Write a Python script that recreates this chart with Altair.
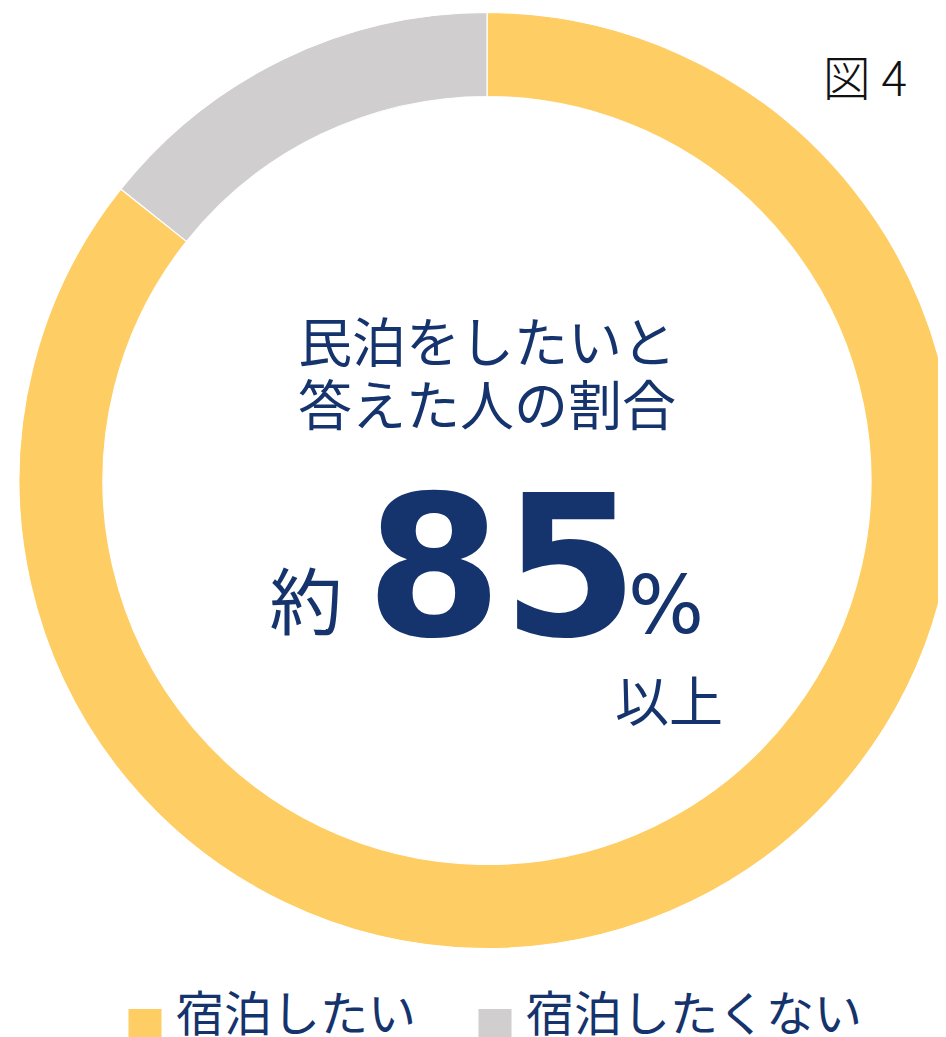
import altair as alt
import pandas as pd

categories = ["宿泊したい", "宿泊したくない"]
values = [85.7, 14.3]
colors = ["#FECD63", "#D0CECF"]

center_lines = ["民泊をしたいと", "答えた人の割合"]
big_number = "85"

NAVY = "#15336C"
JP = "Noto Sans CJK JP"

df = pd.DataFrame({"cat": categories, "val": values, "ord": [0, 1]})

W, H = 930, 1040
CX, CY = 479, 472.5

donut = alt.Chart(df).mark_arc(
    radius=468, radius2=384, stroke="white", strokeWidth=1.2
).encode(
    theta=alt.Theta("val:Q", stack=True),
    order=alt.Order("ord:Q"),
    color=alt.Color(
        "cat:N",
        scale=alt.Scale(domain=categories, range=colors),
        legend=alt.Legend(
            title=None,
            orient="none",
            direction="horizontal",
            legendX=113,
            legendY=985,
            symbolType="M-1,-0.5H1V1.5H-1Z",
            symbolSize=1089,
            symbolStrokeWidth=0,
            symbolOpacity=1,
            labelFont=JP,
            labelFontSize=48,
            labelColor=NAVY,
            labelOffset=7,
            labelLimit=0,
            columnPadding=54,
        ),
    ),
    x=alt.value(CX),
    y=alt.value(CY),
)


def txt(text, x, y, size, color=NAVY, font=JP, weight="normal", baseline="middle",
        align="center", line_height=None):
    props = dict(font=font, fontSize=size, fontWeight=weight, color=color,
                 baseline=baseline, align=align, text=text)
    if line_height is not None:
        props["lineHeight"] = line_height
    return alt.Chart(pd.DataFrame({"k": [0]})).mark_text(**props).encode(
        x=alt.value(x), y=alt.value(y)
    )


layers = [
    donut,
    txt(center_lines, 479, 339, 54, line_height=63),
    txt("約", 298, 599, 73),
    txt(big_number, 494, 627, 196, font="DejaVu Sans", weight="bold", baseline="alphabetic"),
    txt("%", 658, 625, 80, font="DejaVu Sans", baseline="alphabetic"),
    txt("以上", 661, 698, 54),
    txt("図 4", 857, 74, 48, color="#111111", weight=300),
]

chart = alt.layer(*layers).properties(
    width=W, height=H, padding=0, autosize=alt.AutoSizeParams(type="none")
).configure_view(stroke=None)

chart.save("out.html", embed_options={"renderer": "svg", "actions": False})
